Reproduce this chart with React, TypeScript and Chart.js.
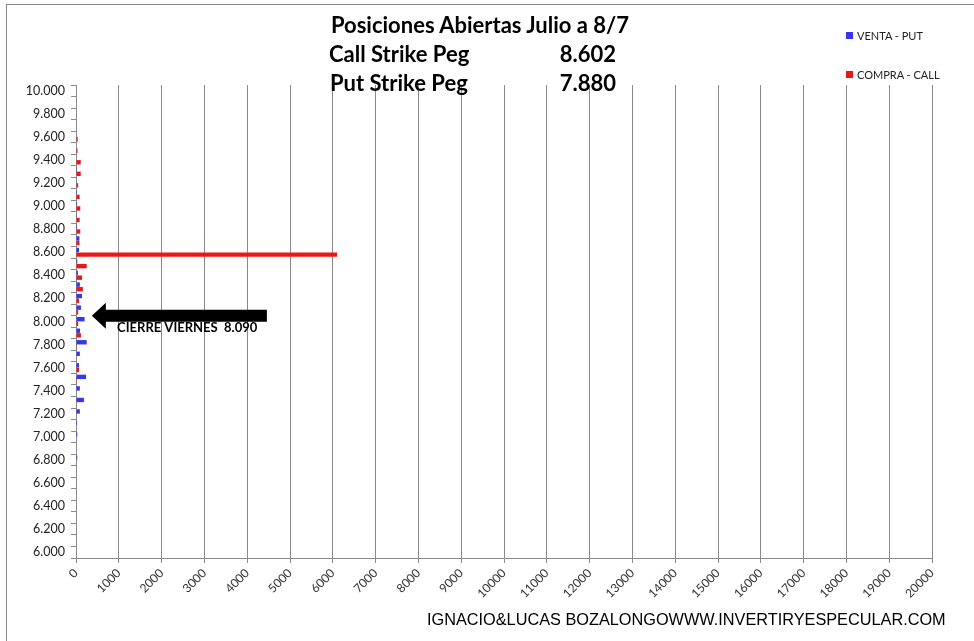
import React, { useEffect, useRef } from "react";
import { Chart, registerables } from "chart.js";

Chart.register(...registerables);

const strikes: number[] = [
  10000, 9900, 9800, 9700, 9600, 9500, 9400, 9300, 9200, 9100,
  9000, 8900, 8800, 8700, 8600, 8500, 8400, 8300, 8200, 8100,
  8000, 7900, 7800, 7700, 7600, 7500, 7400, 7300, 7200, 7100,
  7000, 6900, 6800, 6700, 6600, 6500, 6400, 6300, 6200, 6100, 6000,
];

const ventaPut: number[] = [
  0, 0, 0, 0, 0, 0, 0, 20, 0, 20,
  25, 20, 25, 80, 70, 30, 45, 90, 140, 115,
  200, 95, 250, 90, 70, 235, 90, 185, 90, 25,
  30, 0, 30, 0, 0, 0, 0, 0, 0, 0, 0,
];

const compraCall: number[] = [
  0, 0, 0, 0, 40, 35, 110, 110, 50, 85,
  100, 85, 100, 80, 6100, 250, 140, 160, 70, 50,
  50, 115, 20, 15, 70, 20, 0, 0, 0, 0,
  0, 0, 0, 0, 0, 0, 0, 0, 0, 0, 0,
];

const xTicks: number[] = [
  0, 1000, 2000, 3000, 4000, 5000, 6000, 7000, 8000, 9000, 10000,
  11000, 12000, 13000, 14000, 15000, 16000, 17000, 18000, 19000, 20000,
];

const titleLine = "Posiciones Abiertas Julio a 8/7";
const callLabel = "Call Strike Peg";
const callValue = "8.602";
const putLabel = "Put Strike Peg";
const putValue = "7.880";
const closeLabel = "CIERRE VIERNES  8.090";
const closeStrike = 8050;
const footer = "IGNACIO&LUCAS BOZALONGOWWW.INVERTIRYESPECULAR.COM";

const BLUE = "#3636EE";
const RED = "#EE1515";
const GRID = "#8a8a8a";

const fmtStrike = (v: number) => (v / 1000).toFixed(3);

const arrowPlugin = {
  id: "closeArrow",
  afterDatasetsDraw(chart: any) {
    const { ctx, scales } = chart;
    const x = scales.x;
    const y = scales.y;
    const i0 = strikes.indexOf(8100);
    const idx = i0 + (8100 - closeStrike) / 100;
    const yc = y.getPixelForValue(idx);
    const tip = x.getPixelForValue(370);
    const end = x.getPixelForValue(4460);
    const headLen = 14;
    const shaftH = 12;
    const headH = 26;
    ctx.save();
    ctx.fillStyle = "#000";
    ctx.beginPath();
    ctx.moveTo(tip, yc);
    ctx.lineTo(tip + headLen, yc - headH / 2);
    ctx.lineTo(tip + headLen, yc - shaftH / 2);
    ctx.lineTo(end, yc - shaftH / 2);
    ctx.lineTo(end, yc + shaftH / 2);
    ctx.lineTo(tip + headLen, yc + shaftH / 2);
    ctx.lineTo(tip + headLen, yc + headH / 2);
    ctx.closePath();
    ctx.fill();
    ctx.font = "bold 13px Lato, 'Open Sans', sans-serif";
    ctx.textBaseline = "middle";
    ctx.textAlign = "left";
    ctx.fillText(closeLabel, x.getPixelForValue(960), y.getPixelForValue(idx + 1.05));
    ctx.restore();
  },
};

export default function App() {
  const ref = useRef<HTMLCanvasElement | null>(null);

  useEffect(() => {
    if (!ref.current) return;
    const chart = new Chart(ref.current, {
      type: "bar",
      data: {
        labels: strikes.map(fmtStrike),
        datasets: [
          {
            label: "VENTA - PUT",
            data: ventaPut,
            backgroundColor: BLUE,
            borderWidth: 0,
            barPercentage: 0.95,
            categoryPercentage: 0.8,
          },
          {
            label: "COMPRA - CALL",
            data: compraCall,
            backgroundColor: RED,
            borderWidth: 0,
            barPercentage: 0.95,
            categoryPercentage: 0.8,
          },
        ],
      },
      options: {
        indexAxis: "y",
        responsive: false,
        animation: false,
        layout: { padding: { left: 0, top: 85, right: 42, bottom: 0 } },
        plugins: {
          legend: { display: false },
          title: { display: false },
          tooltip: { enabled: false },
        },
        scales: {
          x: {
            type: "linear",
            min: xTicks[0],
            max: xTicks[xTicks.length - 1],
            afterBuildTicks: (s: any) => {
              s.ticks = xTicks.map((v) => ({ value: v }));
            },
            afterFit: (s: any) => {
              s.height = 83;
            },
            ticks: {
              autoSkip: false,
              minRotation: 45,
              maxRotation: 45,
              color: "#333",
              font: { family: "Lato, 'Open Sans', sans-serif", size: 12 },
              callback: (v: any) => String(v),
            },
            grid: {
              color: GRID,
              lineWidth: 1,
              drawTicks: true,
              tickLength: 5,
            },
            border: { display: true, color: GRID },
          },
          y: {
            type: "category",
            afterFit: (s: any) => {
              s.width = 76;
            },
            ticks: {
              autoSkip: false,
              color: "#222",
              padding: 6,
              font: { family: "Lato, 'Open Sans', sans-serif", size: 12.5 },
              callback: (_v: any, i: number) => (i % 2 === 0 ? fmtStrike(strikes[i]) : ""),
            },
            grid: {
              display: true,
              offset: true,
              drawOnChartArea: false,
              drawTicks: true,
              tickLength: 5,
              color: GRID,
            },
            border: { display: true, color: GRID },
          },
        },
      },
      plugins: [arrowPlugin],
    });
    return () => chart.destroy();
  }, []);

  const titleFont = "Lato, 'Open Sans', sans-serif";
  const head = { fontFamily: titleFont, fontWeight: 700, fontSize: 22, lineHeight: "29px", color: "#000", whiteSpace: "nowrap" as const };

  return (
    <div
      style={{
        position: "absolute",
        left: 0,
        top: 0,
        width: 974,
        height: 641,
        overflow: "hidden",
        background: "#fff",
      }}
    >
      <div
        style={{
          position: "absolute",
          left: 6,
          top: 4,
          width: 1000,
          height: 700,
          borderLeft: "1px solid #888",
          borderTop: "1px solid #888",
        }}
      />
      <canvas ref={ref} width={974} height={641} style={{ position: "absolute", left: 0, top: 0 }} />
      <div style={{ ...head, position: "absolute", left: 280, width: 400, top: 10, textAlign: "center" }}>
        {titleLine}
      </div>
      <div style={{ ...head, position: "absolute", left: 329, top: 39 }}>{callLabel}</div>
      <div style={{ ...head, position: "absolute", left: 536, width: 80, textAlign: "right", top: 39 }}>{callValue}</div>
      <div style={{ ...head, position: "absolute", left: 330, top: 68 }}>{putLabel}</div>
      <div style={{ ...head, position: "absolute", left: 536, width: 80, textAlign: "right", top: 68 }}>{putValue}</div>
      <div style={{ position: "absolute", left: 846, top: 29, display: "flex", alignItems: "center", fontFamily: titleFont, fontSize: 11, color: "#222", whiteSpace: "nowrap" }}>
        <span style={{ display: "inline-block", width: 7, height: 7, background: BLUE, marginRight: 4 }} />
        VENTA - PUT
      </div>
      <div style={{ position: "absolute", left: 846, top: 68, display: "flex", alignItems: "center", fontFamily: titleFont, fontSize: 11, color: "#222", whiteSpace: "nowrap" }}>
        <span style={{ display: "inline-block", width: 7, height: 7, background: RED, marginRight: 4 }} />
        COMPRA - CALL
      </div>
      <div
        style={{
          position: "absolute",
          left: 427,
          top: 610,
          fontFamily: "'Liberation Sans', Arial, sans-serif",
          fontSize: 16.3,
          color: "#000",
          whiteSpace: "nowrap",
        }}
      >
        {footer}
      </div>
    </div>
  );
}
